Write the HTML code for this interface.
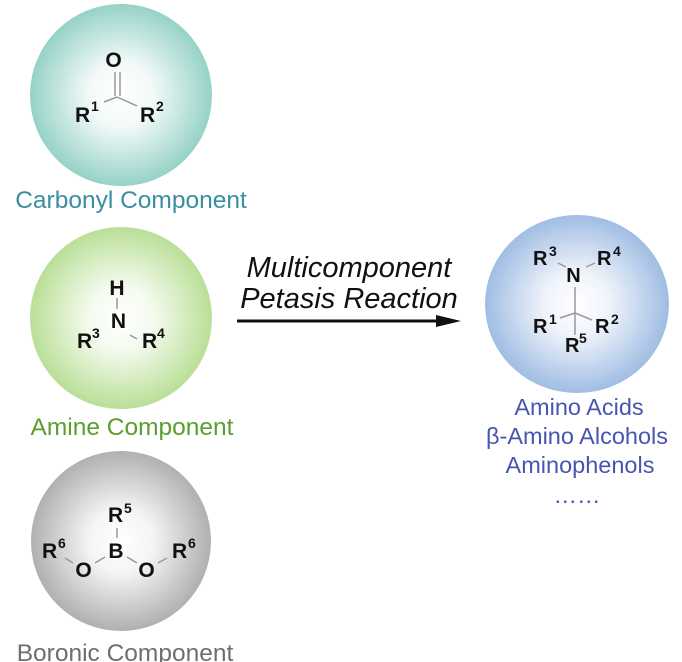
<!DOCTYPE html>
<html><head><meta charset="utf-8"><style>
html,body{margin:0;padding:0;background:#fff;}
svg{display:block;}
text{font-family:"Liberation Sans",Arial,sans-serif;}
.b{font-weight:bold;fill:#111;font-size:21px;}
.s{font-weight:bold;fill:#111;font-size:14px;}
.bond{stroke:#999;stroke-width:1.5;fill:none;}
</style></head><body>
<svg width="682" height="662" viewBox="0 0 682 662" xmlns="http://www.w3.org/2000/svg">
<defs>
<radialGradient id="gT" cx="50%" cy="50%" r="50%">
<stop offset="0" stop-color="#ffffff"/><stop offset="0.35" stop-color="#f3faf9"/><stop offset="1" stop-color="#96d2c7"/></radialGradient>
<radialGradient id="gG" cx="50%" cy="50%" r="50%">
<stop offset="0" stop-color="#ffffff"/><stop offset="0.35" stop-color="#f5fbef"/><stop offset="1" stop-color="#b9df97"/></radialGradient>
<radialGradient id="gY" cx="50%" cy="50%" r="50%">
<stop offset="0" stop-color="#ffffff"/><stop offset="0.35" stop-color="#f5f5f5"/><stop offset="1" stop-color="#b0b0b0"/></radialGradient>
<radialGradient id="gB" cx="50%" cy="50%" r="50%">
<stop offset="0" stop-color="#ffffff"/><stop offset="0.35" stop-color="#f0f4fb"/><stop offset="1" stop-color="#a0bde3"/></radialGradient>
</defs>

<!-- circles -->
<circle cx="121" cy="95" r="91" fill="url(#gT)"/>
<circle cx="121" cy="318" r="91" fill="url(#gG)"/>
<circle cx="121" cy="541" r="90" fill="url(#gY)"/>
<ellipse cx="577" cy="304" rx="92" ry="89" fill="url(#gB)"/>

<!-- Carbonyl -->
<text class="b" x="113.5" y="67" text-anchor="middle">O</text>
<line class="bond" x1="115" y1="72" x2="115" y2="96"/>
<line class="bond" x1="120" y1="72" x2="120" y2="96"/>
<line class="bond" x1="117" y1="97" x2="104" y2="102"/>
<line class="bond" x1="117" y1="97" x2="137" y2="106"/>
<text class="b" x="75" y="122">R</text><text class="s" x="91" y="111">1</text>
<text class="b" x="140" y="122">R</text><text class="s" x="156" y="111">2</text>
<text x="131" y="208" text-anchor="middle" style="font-size:24.5px;fill:#3a8ea2;">Carbonyl Component</text>

<!-- Amine -->
<text class="b" x="117" y="295" text-anchor="middle">H</text>
<line class="bond" x1="117" y1="298" x2="117" y2="309"/>
<text class="b" x="118.5" y="328" text-anchor="middle">N</text>
<text class="b" x="77" y="348">R</text><text class="s" x="92" y="338">3</text>
<line class="bond" x1="130" y1="335" x2="137" y2="339"/>
<text class="b" x="142" y="348">R</text><text class="s" x="157" y="338">4</text>
<text x="132" y="435" text-anchor="middle" style="font-size:24.5px;fill:#5b9e2e;">Amine Component</text>

<!-- Boronic -->
<text class="b" x="108" y="522">R</text><text class="s" x="124" y="513">5</text>
<line class="bond" x1="117" y1="528" x2="117" y2="538"/>
<text class="b" x="116" y="558" text-anchor="middle">B</text>
<text class="b" x="42" y="558">R</text><text class="s" x="58" y="548">6</text>
<line class="bond" x1="65" y1="558" x2="73" y2="563"/>
<text class="b" x="83.5" y="577" text-anchor="middle">O</text>
<line class="bond" x1="95" y1="563" x2="105" y2="557"/>
<line class="bond" x1="127" y1="557" x2="137" y2="563"/>
<text class="b" x="146.5" y="577" text-anchor="middle">O</text>
<line class="bond" x1="158" y1="563" x2="167" y2="558"/>
<text class="b" x="172" y="558">R</text><text class="s" x="188" y="548">6</text>
<text x="125" y="661" text-anchor="middle" style="font-size:24.5px;fill:#6e6e6e;">Boronic Component</text>

<!-- Arrow -->
<text x="349" y="277" text-anchor="middle" style="font-size:29px;font-style:italic;fill:#111;">Multicomponent</text>
<text x="349" y="308" text-anchor="middle" style="font-size:29px;font-style:italic;fill:#111;">Petasis Reaction</text>
<line x1="237" y1="321" x2="440" y2="321" stroke="#111" stroke-width="3"/>
<polygon points="436,315 461,321 436,327" fill="#111"/>

<!-- Product -->
<text class="b" x="533" y="265" style="font-size:20px">R</text><text class="s" x="549" y="256">3</text>
<line class="bond" x1="558" y1="263" x2="566" y2="267"/>
<text class="b" x="573.5" y="282" text-anchor="middle" style="font-size:20px">N</text>
<line class="bond" x1="586" y1="267" x2="595" y2="263"/>
<text class="b" x="597" y="265" style="font-size:20px">R</text><text class="s" x="613" y="256">4</text>
<line class="bond" x1="575" y1="287" x2="575" y2="335"/>
<line class="bond" x1="575" y1="313" x2="560" y2="318"/>
<line class="bond" x1="575" y1="313" x2="592" y2="320"/>
<text class="b" x="533" y="333" style="font-size:20px">R</text><text class="s" x="549" y="324">1</text>
<text class="b" x="565" y="352" style="font-size:20px">R</text><text class="s" x="579" y="343">5</text>
<text class="b" x="595" y="333" style="font-size:20px">R</text><text class="s" x="611" y="324">2</text>

<g style="font-size:23.5px;fill:#4855b0;" text-anchor="middle">
<text x="579" y="415">Amino Acids</text>
<text x="577" y="444">β-Amino Alcohols</text>
<text x="580" y="473">Aminophenols</text>
<text x="577" y="503">……</text>
</g>
</svg>
</body></html>
